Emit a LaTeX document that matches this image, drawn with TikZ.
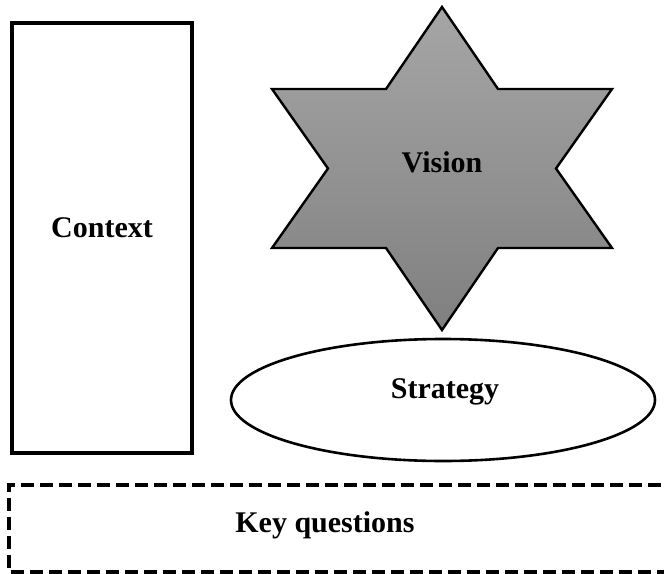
\documentclass[tikz,border=0pt]{standalone}
\usepackage{fontspec}
\setmainfont{Liberation Serif}
\usepackage{tikz}
\usetikzlibrary{shapes,positioning}

\begin{document}
\begin{tikzpicture}[
    x=0.5pt, y=-0.5pt,
    label/.style={font=\fontsize{15}{18}\selectfont\bfseries, inner sep=0pt},
    frame/.style={rectangle, draw, line width=1.9pt, minimum width=90pt, minimum height=215pt},
    oval/.style={ellipse, draw, line width=1.3pt, minimum width=212pt, minimum height=61pt},
    questions/.style={draw, line width=1.8pt, dash pattern=on 6.5pt off 3pt}
]
\useasboundingbox (0,0) rectangle (664,573);

% Context
\node[frame] (context) at (102,238) {};
\node[label] (contextlabel) at (102,228) {Context};

% Vision star
\draw[line width=1.2pt, top color=black!35, bottom color=black!50, line join=miter]
    (442,7) -- (498,89) -- (612,89) -- (556,168.5) -- (612,248) -- (498,248)
    -- (442,330) -- (386,248) -- (272,248) -- (328,168.5) -- (272,89) -- (386,89) -- cycle;
\node[label] (vision) at (442,162) {Vision};

% Strategy
\node[oval] (strategy) at (443,400) {};
\node[label] (strategylabel) at (445,392) {Strategy};

% Key questions
\draw[questions] (680,485) -- (9,485) -- (9,572) -- (680,572);
\node[label] (keyq) at (325,525) {Key questions};

\end{tikzpicture}
\end{document}
